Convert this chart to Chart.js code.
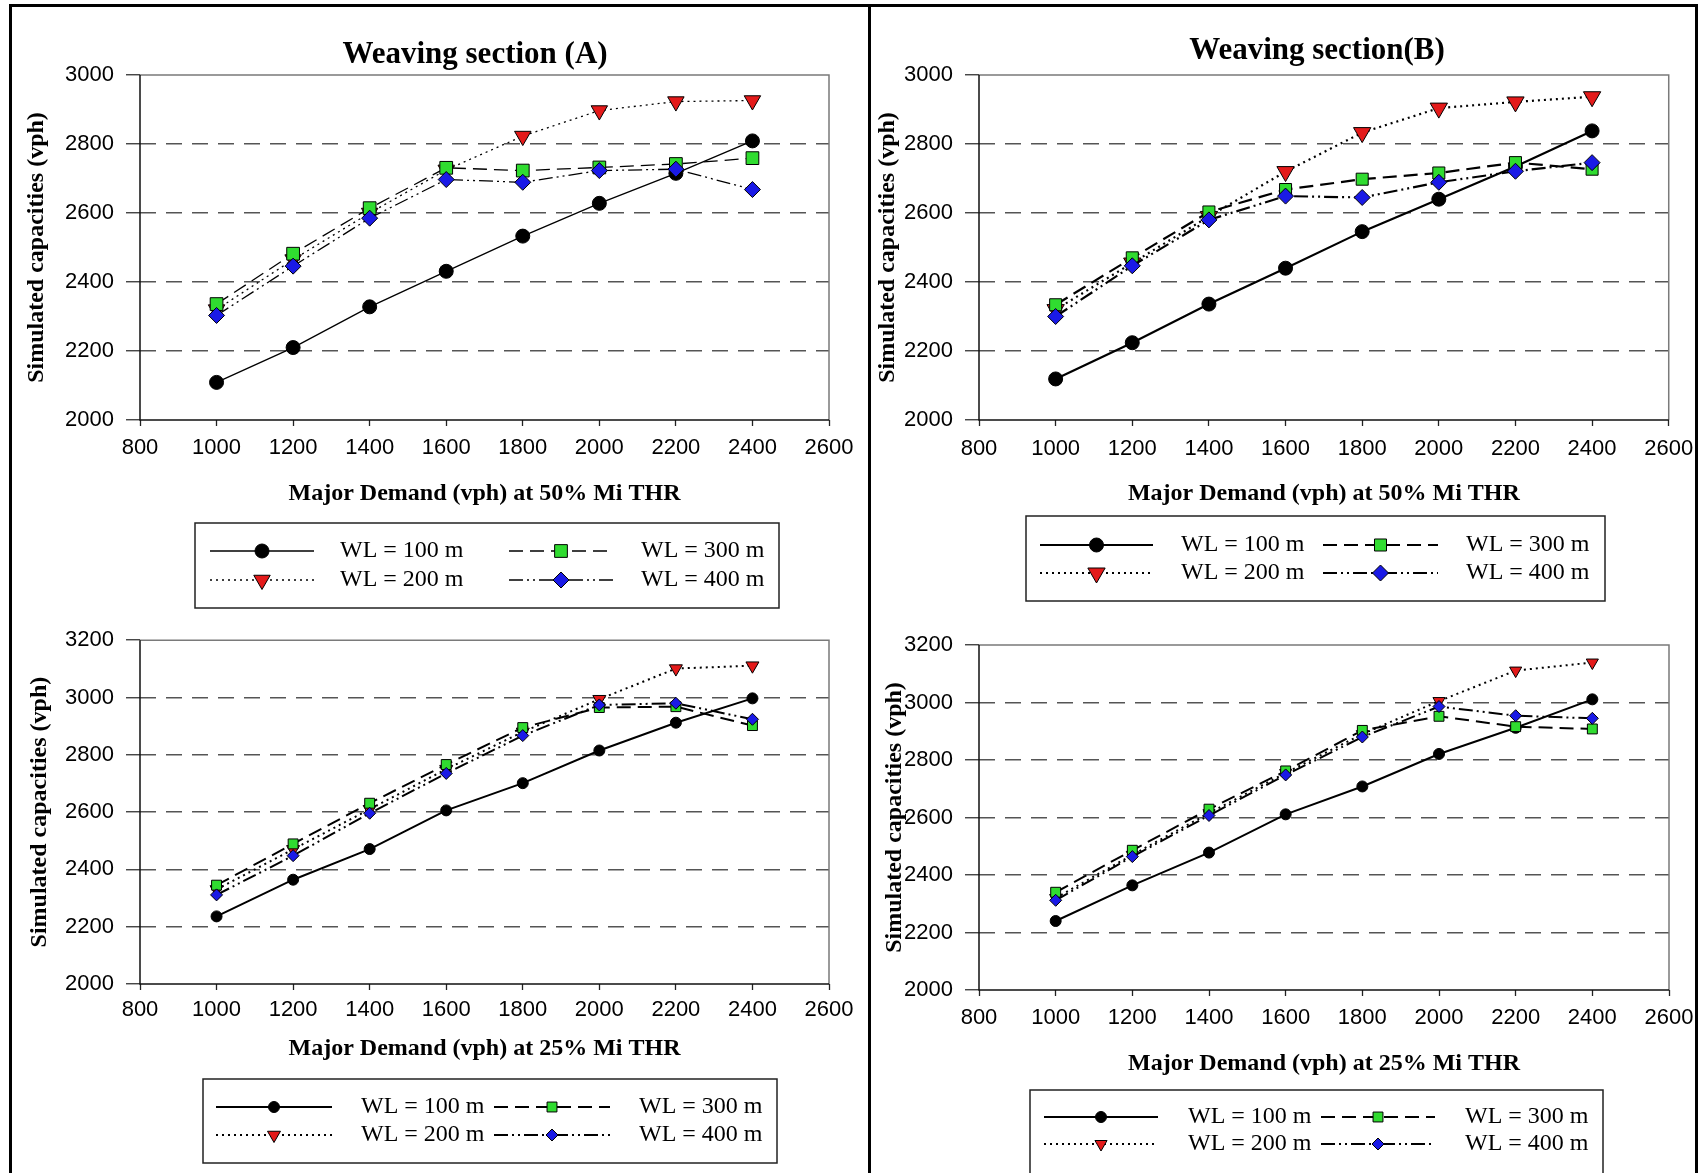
<!DOCTYPE html>
<html>
<head>
<meta charset="utf-8">
<script src="https://cdn.jsdelivr.net/npm/chart.js"></script>
<style>
    body { margin: 0; background: #fff; }
    #page { position: relative; width: 1703px; height: 1173px; overflow: hidden; background: #fff; }
    #page canvas { position: absolute; }
    .rule { position: absolute; background: #000; z-index: 5; }
</style>
</head>
<body>
<div id="page">
    <canvas id="chart-a50" style="left:0;top:0"></canvas>
    <canvas id="chart-b50" style="left:869px;top:0"></canvas>
    <canvas id="chart-a25" style="left:0;top:615px"></canvas>
    <canvas id="chart-b25" style="left:869px;top:615px"></canvas>
    <div class="rule" style="left:9px;top:4px;width:1689px;height:3px"></div>
    <div class="rule" style="left:9px;top:4px;width:3px;height:1200px"></div>
    <div class="rule" style="left:1695px;top:4px;width:3px;height:1200px"></div>
    <div class="rule" style="left:868px;top:4px;width:3px;height:1200px"></div>
</div>
<script>
const demand = [1000, 1200, 1400, 1600, 1800, 2000, 2200, 2400];
const xTickValues = [800, 1000, 1200, 1400, 1600, 1800, 2000, 2200, 2400, 2600];
const yTicks50 = [2000, 2200, 2400, 2600, 2800, 3000];
const yTicks25 = [2000, 2200, 2400, 2600, 2800, 3000, 3200];
const seriesNames = ['WL = 100 m', 'WL = 200 m', 'WL = 300 m', 'WL = 400 m'];

// weaving section A, 50% Mi THR
const a50wl100 = [2109, 2210, 2328, 2431, 2533, 2628, 2715, 2809];
const a50wl200 = [2320, 2465, 2600, 2725, 2823, 2897, 2923, 2926];
const a50wl300 = [2336, 2482, 2614, 2731, 2723, 2732, 2742, 2759];
const a50wl400 = [2303, 2446, 2585, 2697, 2689, 2723, 2727, 2668];

// weaving section B, 50% Mi THR
const b50wl100 = [2119, 2224, 2336, 2440, 2546, 2640, 2735, 2838];
const b50wl200 = [2320, 2455, 2590, 2720, 2833, 2904, 2922, 2937];
const b50wl300 = [2334, 2470, 2603, 2668, 2698, 2716, 2746, 2727];
const b50wl400 = [2300, 2447, 2580, 2649, 2645, 2689, 2721, 2746];

// weaving section A, 25% Mi THR
const a25wl100 = [2236, 2364, 2471, 2606, 2701, 2815, 2912, 2997];
const a25wl200 = [2330, 2470, 2610, 2750, 2880, 2994, 3101, 3111];
const a25wl300 = [2345, 2489, 2631, 2766, 2895, 2965, 2968, 2902];
const a25wl400 = [2311, 2448, 2596, 2735, 2867, 2974, 2980, 2924];

// weaving section B, 25% Mi THR
const b25wl100 = [2240, 2364, 2478, 2611, 2708, 2821, 2912, 3011];
const b25wl200 = [2320, 2470, 2615, 2755, 2890, 3005, 3111, 3139];
const b25wl300 = [2340, 2486, 2629, 2762, 2903, 2952, 2916, 2908];
const b25wl400 = [2312, 2464, 2607, 2748, 2880, 2986, 2954, 2945];

const SERIF = '"Liberation Serif", "Times New Roman", serif';
const SANS = '"Liberation Sans", Arial, sans-serif';

const lineDash = [[], [2, 4], [14, 7], [14, 4, 2, 4, 2, 4]];
const markerShape = ['circle', 'triangle', 'rect', 'rectRot'];
const markerRotation = [0, 180, 0, 0];
const markerFill = ['#000000', '#e41a1a', '#30dc30', '#1a1ae6'];

// grey top/right frame, black axes
const framePlugin = {
    id: 'frame',
    beforeDatasetsDraw(chart) {
        const {ctx, chartArea: a} = chart;
        ctx.save();
        ctx.lineWidth = 1.5;
        ctx.strokeStyle = '#7a7a7a';
        ctx.beginPath();
        ctx.moveTo(a.left, a.top);
        ctx.lineTo(a.right, a.top);
        ctx.lineTo(a.right, a.bottom);
        ctx.stroke();
        ctx.strokeStyle = '#111';
        ctx.beginPath();
        ctx.moveTo(a.left, a.top);
        ctx.lineTo(a.left, a.bottom);
        ctx.lineTo(a.right, a.bottom);
        ctx.stroke();
        ctx.restore();
    }
};

// panel title and boxed 2x2 legend
const panelTextPlugin = {
    id: 'panelText',
    afterDraw(chart, args, opts) {
        const ctx = chart.ctx;
        ctx.save();
        ctx.fillStyle = '#000';
        ctx.textBaseline = 'middle';
        if (opts.title) {
            ctx.font = 'bold 31px ' + SERIF;
            ctx.textAlign = 'center';
            ctx.fillText(opts.title, opts.titleX, opts.titleY);
        }
        const lg = opts.legend;
        ctx.lineWidth = 1.5;
        ctx.strokeStyle = '#222';
        ctx.strokeRect(lg.x, lg.y, lg.w, lg.h);
        chart.data.datasets.forEach((ds, i) => {
            const col = lg.cols[Math.floor(i / 2)];
            const y = lg.rows[i % 2];
            ctx.beginPath();
            ctx.setLineDash(ds.borderDash);
            ctx.lineWidth = ds.borderWidth;
            ctx.strokeStyle = ds.borderColor;
            ctx.moveTo(col.line[0], y);
            ctx.lineTo(col.line[1], y);
            ctx.stroke();
            ctx.setLineDash([]);
            ctx.fillStyle = ds.pointBackgroundColor;
            ctx.strokeStyle = ds.pointBorderColor;
            ctx.lineWidth = ds.pointBorderWidth;
            Chart.helpers.drawPoint(ctx, {
                pointStyle: ds.pointStyle,
                rotation: ds.pointRotation,
                radius: ds.pointRadius,
                borderWidth: ds.pointBorderWidth
            }, (col.line[0] + col.line[1]) / 2, y);
            ctx.fillStyle = '#000';
            ctx.font = '24px ' + SERIF;
            ctx.textAlign = 'left';
            ctx.fillText(ds.label, col.text, y);
        });
        ctx.restore();
    }
};

const createPanel = (p) => {
    const canvas = document.getElementById(p.id);
    canvas.width = p.cw;
    canvas.height = p.ch;
    const area = p.area;
    const titleLH = 24 * 1.2;
    const tickLH = 22 * 1.2;
    const padLeft = p.yTitleX - titleLH / 2;
    const yWidth = area.l - padLeft;
    const xHeight = p.xTitleY + titleLH / 2 - area.b;
    const yMax = p.yTicks[p.yTicks.length - 1];
    const yMin = p.yTicks[0];

    new Chart(canvas, {
        type: 'line',
        data: {
            datasets: p.series.map((values, i) => ({
                label: seriesNames[i],
                data: demand.map((x, k) => ({x: x, y: values[k]})),
                borderColor: '#000',
                borderWidth: p.lineWidth,
                borderDash: lineDash[i],
                pointStyle: markerShape[i],
                pointRotation: markerRotation[i],
                pointRadius: p.radius[i],
                pointBackgroundColor: markerFill[i],
                pointBorderColor: '#000',
                pointBorderWidth: 1,
                tension: 0,
                fill: false,
                order: 4 - i
            }))
        },
        options: {
            responsive: false,
            animation: false,
            layout: {
                padding: {left: padLeft, right: p.cw - area.r, top: area.t, bottom: p.ch - area.b - xHeight}
            },
            plugins: {
                legend: {display: false},
                tooltip: {enabled: false},
                panelText: {title: p.title, titleX: p.titleX, titleY: p.titleY, legend: p.legend}
            },
            scales: {
                x: {
                    type: 'linear',
                    min: xTickValues[0],
                    max: xTickValues[xTickValues.length - 1],
                    afterBuildTicks: s => { s.ticks = xTickValues.map(v => ({value: v})); },
                    afterFit: s => { s.height = xHeight; },
                    ticks: {
                        callback: v => String(v),
                        padding: p.xLabelY - area.b - 6 - tickLH / 2,
                        color: '#000',
                        maxRotation: 0,
                        font: {family: SANS, size: 22}
                    },
                    grid: {drawOnChartArea: false, tickLength: 6, tickColor: '#222', tickWidth: 1.3},
                    border: {display: false},
                    title: {
                        display: true,
                        text: p.xTitle,
                        color: '#000',
                        padding: 0,
                        font: {family: SERIF, size: 24, weight: 'bold'}
                    }
                },
                y: {
                    min: yMin,
                    max: yMax,
                    afterBuildTicks: s => { s.ticks = p.yTicks.map(v => ({value: v})); },
                    afterFit: s => { s.width = yWidth; },
                    ticks: {
                        callback: v => String(v),
                        padding: 12,
                        color: '#000',
                        font: {family: SANS, size: 22}
                    },
                    grid: {
                        color: c => (c.tick && (c.tick.value === yMin || c.tick.value === yMax)) ? 'rgba(0,0,0,0)' : '#555',
                        lineWidth: 1.5,
                        tickLength: 14,
                        tickColor: '#333',
                        tickWidth: 1.3,
                        tickBorderDash: []
                    },
                    border: {display: false, dash: [16, 10]},
                    title: {
                        display: true,
                        text: 'Simulated capacities (vph)',
                        color: '#000',
                        padding: 0,
                        font: {family: SERIF, size: 24, weight: 'bold'}
                    }
                }
            }
        },
        plugins: [framePlugin, panelTextPlugin]
    });
};

(() => {
    createPanel({
        id: 'chart-a50', cw: 869, ch: 615,
        area: {l: 140, r: 829, t: 75, b: 420},
        yTitleX: 37, xTitleY: 494, xLabelY: 448,
        title: 'Weaving section (A)', titleX: 475, titleY: 55,
        xTitle: 'Major Demand (vph) at 50% Mi THR',
        yTicks: yTicks50,
        series: [a50wl100, a50wl200, a50wl300, a50wl400],
        lineWidth: 1.3, radius: [7, 9.5, 9, 8],
        legend: {x: 195, y: 523, w: 584, h: 85, rows: [551, 580],
            cols: [{line: [210, 314], text: 340}, {line: [509, 613], text: 641}]}
    });

    createPanel({
        id: 'chart-b50', cw: 834, ch: 615,
        area: {l: 110, r: 800, t: 75, b: 420},
        yTitleX: 19, xTitleY: 494, xLabelY: 449,
        title: 'Weaving section(B)', titleX: 448, titleY: 51,
        xTitle: 'Major Demand (vph) at 50% Mi THR',
        yTicks: yTicks50,
        series: [b50wl100, b50wl200, b50wl300, b50wl400],
        lineWidth: 2.2, radius: [7, 10, 8.5, 8],
        legend: {x: 157, y: 516, w: 579, h: 85, rows: [545, 573],
            cols: [{line: [171, 284], text: 312}, {line: [454, 569], text: 597}]}
    });

    createPanel({
        id: 'chart-a25', cw: 869, ch: 558,
        area: {l: 140, r: 829, t: 23, b: 369},
        yTitleX: 40, xTitleY: 434, xLabelY: 395,
        title: '', titleX: 0, titleY: 0,
        xTitle: 'Major Demand (vph) at 25% Mi THR',
        yTicks: yTicks25,
        series: [a25wl100, a25wl200, a25wl300, a25wl400],
        lineWidth: 2, radius: [5.5, 7.5, 7, 6],
        legend: {x: 203, y: 464, w: 574, h: 84, rows: [492, 520],
            cols: [{line: [216, 332], text: 361}, {line: [494, 610], text: 639}]}
    });

    createPanel({
        id: 'chart-b25', cw: 834, ch: 558,
        area: {l: 110, r: 800, t: 30, b: 375},
        yTitleX: 26, xTitleY: 449, xLabelY: 403,
        title: '', titleX: 0, titleY: 0,
        xTitle: 'Major Demand (vph) at 25% Mi THR',
        yTicks: yTicks25,
        series: [b25wl100, b25wl200, b25wl300, b25wl400],
        lineWidth: 2, radius: [5.5, 7, 7, 6],
        legend: {x: 161, y: 475, w: 573, h: 100, rows: [502, 529],
            cols: [{line: [175, 289], text: 319}, {line: [452, 566], text: 596}]}
    });
})();
</script>
</body>
</html>
